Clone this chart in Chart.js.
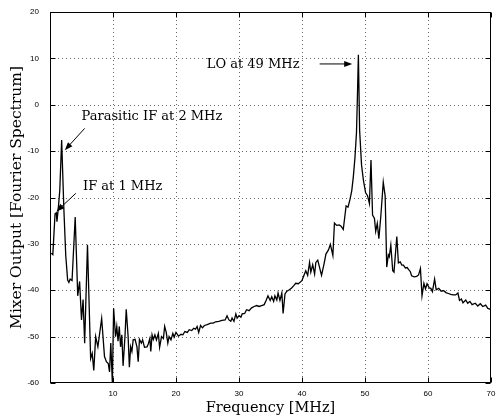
<!DOCTYPE html>
<html><head><meta charset="utf-8">
<script src="https://cdn.jsdelivr.net/npm/chart.js@4"></script>
<style>html,body{margin:0;padding:0;background:#fff}#wrap{width:498px;height:418px}</style>
</head><body><div id="wrap"><canvas id="c" width="498" height="418"></canvas></div>
<script>
// ---- data ----
const freqMHz = [0.2,0.45,0.8,1.0,1.1,1.3,1.55,1.85,2.2,2.5,2.8,3.0,3.2,3.5,4.0,4.4,4.7,5.0,5.25,5.5,5.95,6.45,6.7,6.95,7.25,7.6,8.2,8.65,8.95,9.25,9.45,9.65,9.9,
10.1,10.4,10.6,10.8,11.0,11.2,11.4,11.6,11.9,12.1,12.4,12.6,12.8,13.0,13.2,13.5,13.8,14.0,14.2,14.5,14.7,15.0,15.4,15.6,15.85,16.0,16.2,16.4,16.65,16.9,17.2,17.4,17.7,18.0,18.2,18.45,18.7,18.9,19.2,19.5,19.7,
20.0,20.4,20.8,21.1,21.4,21.8,22.1,22.5,22.8,23.1,23.35,23.6,23.9,24.2,24.5,24.95,25.5,25.9,26.3,26.8,27.3,27.8,28.1,28.4,28.7,28.9,29.2,29.5,29.7,
30.0,30.3,30.5,30.9,31.2,31.6,32.0,32.4,32.8,33.2,33.6,34.0,34.3,34.6,34.95,35.2,35.5,35.7,36.0,36.2,36.5,36.8,37.0,37.3,37.6,38.0,38.35,38.7,39.0,39.4,39.7,
40.0,40.3,40.6,40.9,41.2,41.4,41.7,42.0,42.2,42.5,43.1,43.5,43.8,44.2,44.5,44.9,45.15,45.5,45.9,46.2,46.55,47.0,47.3,47.6,47.9,48.15,48.4,48.65,48.8,48.95,49.15,49.45,49.75,
50.1,50.4,50.7,50.95,51.2,51.5,51.7,51.95,52.2,52.5,52.9,53.2,53.45,53.7,53.85,54.1,54.4,54.6,55.05,55.3,55.6,55.85,56.1,56.4,56.7,56.9,57.2,57.4,57.8,58.2,58.5,58.8,59.05,59.35,59.6,59.85,
60.2,60.45,60.7,61.05,61.3,61.7,62.1,62.5,62.85,63.25,63.6,64.0,64.4,64.75,65.0,65.3,65.55,66.0,66.3,66.65,67.0,67.5,67.9,68.3,68.7,69.15,69.5,69.95];
const levelDb = [-32,-32.3,-23.5,-23.3,-25.2,-22.6,-18.5,-7.6,-22.5,-32.5,-37.8,-38.3,-37.6,-37.9,-24.2,-41.2,-38.1,-46.4,-42,-51.4,-30.2,-54.7,-53.6,-57.3,-50,-52.2,-46.1,-54.3,-55.4,-55.8,-57.6,-51.4,-60,
-43.9,-50,-47.8,-51,-47.8,-52.2,-49.6,-56.3,-50,-44.1,-50,-56.6,-52.2,-53.2,-50.7,-50.6,-52.2,-55.4,-50.6,-51.4,-50.7,-52.3,-52.2,-51.6,-50.4,-53.2,-49.6,-50.6,-49.6,-50.7,-49.3,-52.3,-50,-50.4,-47.8,-49.1,-51.4,-50,-50.7,-49.3,-50.1,
-49.1,-49.9,-49.5,-49.6,-48.9,-49.1,-48.5,-48.7,-48.2,-48.4,-47.8,-49.1,-47.6,-48.1,-47.6,-47.4,-47.1,-47.1,-46.8,-46.7,-46.5,-46.4,-45.5,-46.4,-46.7,-46,-46.7,-45.1,-46,
-45.5,-45.8,-45.1,-45,-44.2,-44.4,-43.8,-43.5,-43.3,-43.5,-43.3,-43.1,-42.2,-41.2,-42.2,-41.4,-42.4,-41.2,-42.1,-40.6,-42.2,-40.6,-45,-40.8,-40.2,-39.9,-39.5,-39,-38.5,-38.6,-38.3,
-37.9,-36.8,-35.8,-36.8,-34,-36.1,-34.5,-36.5,-34,-33.5,-36.8,-34.3,-32.2,-31.3,-30.1,-32.5,-25.5,-26,-25.9,-26.2,-26.9,-21.8,-22.1,-20.5,-18.5,-15.5,-11.5,-6,2,10.8,-5.6,-13,-16.3,
-19,-19.6,-21.3,-11.9,-23.8,-24.5,-27.3,-25.6,-28.9,-24.2,-16.7,-19.7,-35,-32.4,-32.8,-30.3,-35.8,-36.1,-28.4,-34.1,-33.9,-34.6,-34.6,-35.2,-35.1,-35.5,-36,-36.9,-37.1,-37,-36.7,-35.3,-41.2,-38.5,-39.7,-38.6,
-39.5,-39.6,-40.3,-37.6,-39.9,-39.6,-40.2,-40.1,-40.5,-40.7,-40.9,-41,-41,-40.6,-42.2,-41.9,-42.7,-42.1,-42.8,-42.4,-43.1,-42.8,-43.4,-42.9,-43.5,-43.2,-43.9,-44.1];
const xTicks = [0,10,20,30,40,50,60,70];
const yTicks = [-60,-50,-40,-30,-20,-10,0,10,20];
const xTitle = 'Frequency [MHz]';
const yTitle = 'Mixer Output [Fourier Spectrum]';
const noteTexts = ['Parasitic IF at 2 MHz','IF at 1 MHz','LO at 49 MHz'];

// ---- annotation placement (data coordinates) ----
const notes = [
  {text:noteTexts[0], tx:5.0, ty:-2.6, align:'left', ax0:5.5, ay0:-5.1, ax1:2.35, ay1:-9.8},
  {text:noteTexts[1], tx:5.25, ty:-17.7, align:'left', ax0:4.1, ay0:-19.1, ax1:1.03, ay1:-23.0},
  {text:noteTexts[2], tx:39.6, ty:8.7, align:'right', ax0:42.8, ay0:8.8, ax1:47.97, ay1:8.8}
];

const frame = {
  id:'frame',
  beforeDatasetsDraw(chart){
    const {ctx, chartArea:a, scales:{x,y}} = chart;
    ctx.save();
    ctx.strokeStyle = '#666'; ctx.lineWidth = 1; ctx.setLineDash([1,3]);
    xTicks.forEach(v=>{ if(v<=x.min||v>=x.max) return; const p=Math.round(x.getPixelForValue(v))+0.5;
      ctx.beginPath(); ctx.moveTo(p,a.top); ctx.lineTo(p,a.bottom); ctx.stroke(); });
    yTicks.forEach(v=>{ if(v<=y.min||v>=y.max) return; const p=Math.round(y.getPixelForValue(v))+0.5;
      ctx.beginPath(); ctx.moveTo(a.left,p); ctx.lineTo(a.right,p); ctx.stroke(); });
    ctx.restore();
  },
  afterDatasetsDraw(chart){
    const {ctx, chartArea:a, scales:{x,y}} = chart;
    ctx.save();
    ctx.setLineDash([]); ctx.strokeStyle='#000'; ctx.lineWidth=1;
    const L=Math.round(a.left)+0.5, R=Math.round(a.right)-0.5, T=Math.round(a.top)+0.5, B=Math.round(a.bottom)-0.5;
    ctx.strokeRect(L,T,R-L,B-T);
    const tl=5;
    ctx.beginPath();
    xTicks.forEach(v=>{ const p=Math.round(x.getPixelForValue(v))+0.5; ctx.moveTo(p,B); ctx.lineTo(p,B-tl); ctx.moveTo(p,T); ctx.lineTo(p,T+tl); });
    yTicks.forEach(v=>{ const p=Math.round(y.getPixelForValue(v))+0.5; ctx.moveTo(L,p); ctx.lineTo(L+tl,p); ctx.moveTo(R,p); ctx.lineTo(R-tl,p); });
    ctx.stroke();
    // annotations
    ctx.fillStyle='#000';
    ctx.font = '13px "DejaVu Serif"';
    ctx.textBaseline='middle';
    notes.forEach(n=>{
      ctx.textAlign=n.align;
      ctx.fillText(n.text, x.getPixelForValue(n.tx), y.getPixelForValue(n.ty));
      const x0=x.getPixelForValue(n.ax0), y0=y.getPixelForValue(n.ay0), x1=x.getPixelForValue(n.ax1), y1=y.getPixelForValue(n.ay1);
      const ang=Math.atan2(y1-y0,x1-x0), hl=8, hw=3;
      ctx.beginPath(); ctx.moveTo(x0,y0); ctx.lineTo(x1-Math.cos(ang)*hl*0.8,y1-Math.sin(ang)*hl*0.8); ctx.stroke();
      ctx.beginPath(); ctx.moveTo(x1,y1);
      ctx.lineTo(x1-Math.cos(ang)*hl-Math.sin(ang)*hw, y1-Math.sin(ang)*hl+Math.cos(ang)*hw);
      ctx.lineTo(x1-Math.cos(ang)*hl+Math.sin(ang)*hw, y1-Math.sin(ang)*hl-Math.cos(ang)*hw);
      ctx.closePath(); ctx.fill();
    });
    ctx.restore();
  }
};

new Chart(document.getElementById('c'), {
  type:'line',
  data:{datasets:[{data:freqMHz.map((f,i)=>({x:f,y:levelDb[i]})), borderColor:'#000', borderWidth:1.3, pointRadius:0, tension:0, fill:false}]},
  options:{
    responsive:false, animation:false, devicePixelRatio:1,
    layout:{padding:{top:12,right:7,left:0,bottom:0}},
    plugins:{legend:{display:false}, tooltip:{enabled:false}},
    scales:{
      x:{type:'linear', min:0, max:70,
        afterBuildTicks:s=>{s.ticks=xTicks.map(v=>({value:v}));},
        afterFit:s=>{s.height=35;},
        ticks:{callback:v=>v===0?'':String(v), font:{family:'"Liberation Sans"', size:8}, color:'#000', padding:-2, maxRotation:0, autoSkip:false},
        grid:{display:false}, border:{display:false},
        title:{display:true, text:xTitle, font:{family:'"DejaVu Serif"', size:14.5}, color:'#000', padding:{top:0,bottom:1.3}}},
      y:{type:'linear', min:-60, max:20,
        afterBuildTicks:s=>{s.ticks=yTicks.map(v=>({value:v}));},
        afterFit:s=>{s.width=50;},
        ticks:{callback:v=>String(v), font:{family:'"Liberation Sans"', size:8}, color:'#000', padding:3, autoSkip:false},
        grid:{display:false}, border:{display:false},
        title:{display:true, text:yTitle, font:{family:'"DejaVu Serif"', size:15.5}, color:'#000', padding:{top:7.7,bottom:0}}}
    }
  },
  plugins:[frame]
});
</script></body></html>
